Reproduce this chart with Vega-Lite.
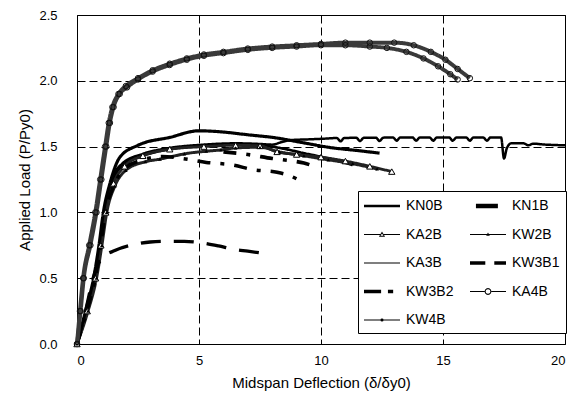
{
  "$schema": "https://vega.github.io/schema/vega-lite/v6.json",
  "width": 488,
  "height": 329,
  "autosize": {"type": "none"},
  "padding": {"left": 77, "top": 15, "right": 11, "bottom": 59},
  "background": "white",
  "config": {
    "font": "Liberation Sans",
    "view": {"stroke": "black", "strokeWidth": 1},
    "axis": {
      "grid": true,
      "gridColor": "black",
      "gridDash": [8, 4],
      "gridWidth": 1,
      "gridOpacity": 1,
      "domain": false,
      "ticks": false,
      "tickSize": 0,
      "labelFont": "Liberation Sans",
      "labelFontSize": 13,
      "labelColor": "black",
      "titleFont": "Liberation Sans",
      "titleFontSize": 15,
      "titleFontWeight": "normal",
      "titleColor": "black"
    },
    "legend": {
      "orient": "none",
      "legendX": 281,
      "legendY": 176,
      "direction": "horizontal",
      "columns": 2,
      "columnPadding": 16,
      "rowPadding": 12.5,
      "padding": 6,
      "symbolOffset": 9,
      "labelOffset": 15,
      "labelFont": "Liberation Sans",
      "labelFontSize": 14,
      "labelColor": "black",
      "labelLimit": 200,
      "symbolSize": 324,
      "symbolFillColor": "black",
      "symbolStrokeColor": "black",
      "symbolStrokeWidth": 0,
      "symbolOpacity": 1,
      "strokeColor": "black",
      "fillColor": "white"
    }
  },
  "datasets": {
    "rows": [
      {"series": "KN0B", "curve": "KN0B", "x": 0, "y": 0},
      {"series": "KN0B", "curve": "KN0B", "x": 0.38, "y": 0.25},
      {"series": "KN0B", "curve": "KN0B", "x": 0.72, "y": 0.5},
      {"series": "KN0B", "curve": "KN0B", "x": 0.93, "y": 0.75},
      {"series": "KN0B", "curve": "KN0B", "x": 1.12, "y": 1.0},
      {"series": "KN0B", "curve": "KN0B", "x": 1.4, "y": 1.24},
      {"series": "KN0B", "curve": "KN0B", "x": 1.85, "y": 1.37},
      {"series": "KN0B", "curve": "KN0B", "x": 2.7, "y": 1.445},
      {"series": "KN0B", "curve": "KN0B", "x": 3.8, "y": 1.49},
      {"series": "KN0B", "curve": "KN0B", "x": 5.2, "y": 1.515},
      {"series": "KN0B", "curve": "KN0B", "x": 6.5, "y": 1.525},
      {"series": "KN0B", "curve": "KN0B", "x": 7.5, "y": 1.52},
      {"series": "KN0B", "curve": "KN0B", "x": 8.0, "y": 1.515},
      {"series": "KN0B", "curve": "KN0B", "x": 8.4, "y": 1.535},
      {"series": "KN0B", "curve": "KN0B", "x": 8.8, "y": 1.55},
      {"series": "KN0B", "curve": "KN0B", "x": 9.5, "y": 1.555},
      {"series": "KN0B", "curve": "KN0B", "x": 10.1, "y": 1.56},
      {"series": "KN0B", "curve": "KN0B", "x": 10.65, "y": 1.565},
      {"series": "KN0B", "curve": "KN0B", "x": 10.8, "y": 1.54},
      {"series": "KN0B", "curve": "KN0B", "x": 10.95, "y": 1.565},
      {"series": "KN0B", "curve": "KN0B", "x": 11.45, "y": 1.567},
      {"series": "KN0B", "curve": "KN0B", "x": 11.6, "y": 1.542},
      {"series": "KN0B", "curve": "KN0B", "x": 11.75, "y": 1.567},
      {"series": "KN0B", "curve": "KN0B", "x": 12.25, "y": 1.568},
      {"series": "KN0B", "curve": "KN0B", "x": 12.4, "y": 1.543},
      {"series": "KN0B", "curve": "KN0B", "x": 12.55, "y": 1.568},
      {"series": "KN0B", "curve": "KN0B", "x": 12.95, "y": 1.57},
      {"series": "KN0B", "curve": "KN0B", "x": 13.1, "y": 1.545},
      {"series": "KN0B", "curve": "KN0B", "x": 13.25, "y": 1.57},
      {"series": "KN0B", "curve": "KN0B", "x": 13.75, "y": 1.57},
      {"series": "KN0B", "curve": "KN0B", "x": 13.9, "y": 1.545},
      {"series": "KN0B", "curve": "KN0B", "x": 14.05, "y": 1.57},
      {"series": "KN0B", "curve": "KN0B", "x": 14.45, "y": 1.57},
      {"series": "KN0B", "curve": "KN0B", "x": 14.6, "y": 1.545},
      {"series": "KN0B", "curve": "KN0B", "x": 14.75, "y": 1.57},
      {"series": "KN0B", "curve": "KN0B", "x": 15.25, "y": 1.57},
      {"series": "KN0B", "curve": "KN0B", "x": 15.4, "y": 1.545},
      {"series": "KN0B", "curve": "KN0B", "x": 15.55, "y": 1.57},
      {"series": "KN0B", "curve": "KN0B", "x": 15.95, "y": 1.57},
      {"series": "KN0B", "curve": "KN0B", "x": 16.1, "y": 1.545},
      {"series": "KN0B", "curve": "KN0B", "x": 16.25, "y": 1.57},
      {"series": "KN0B", "curve": "KN0B", "x": 16.65, "y": 1.57},
      {"series": "KN0B", "curve": "KN0B", "x": 16.8, "y": 1.545},
      {"series": "KN0B", "curve": "KN0B", "x": 16.95, "y": 1.57},
      {"series": "KN0B", "curve": "KN0B", "x": 17.38, "y": 1.57},
      {"series": "KN0B", "curve": "KN0B", "x": 17.5, "y": 1.41},
      {"series": "KN0B", "curve": "KN0B", "x": 17.62, "y": 1.49},
      {"series": "KN0B", "curve": "KN0B", "x": 17.8, "y": 1.525},
      {"series": "KN0B", "curve": "KN0B", "x": 18.3, "y": 1.525},
      {"series": "KN0B", "curve": "KN0B", "x": 18.5, "y": 1.51},
      {"series": "KN0B", "curve": "KN0B", "x": 18.7, "y": 1.522},
      {"series": "KN0B", "curve": "KN0B", "x": 19.2, "y": 1.515},
      {"series": "KN0B", "curve": "KN0B", "x": 19.6, "y": 1.512},
      {"series": "KN0B", "curve": "KN0B", "x": 20, "y": 1.51},

      {"series": "KN1B", "curve": "KN1B", "x": 0, "y": 0},
      {"series": "KN1B", "curve": "KN1B", "x": 0.4, "y": 0.25},
      {"series": "KN1B", "curve": "KN1B", "x": 0.74, "y": 0.5},
      {"series": "KN1B", "curve": "KN1B", "x": 0.95, "y": 0.75},
      {"series": "KN1B", "curve": "KN1B", "x": 1.15, "y": 1.0},
      {"series": "KN1B", "curve": "KN1B", "x": 1.45, "y": 1.23},
      {"series": "KN1B", "curve": "KN1B", "x": 1.9, "y": 1.36},
      {"series": "KN1B", "curve": "KN1B", "x": 2.7, "y": 1.43},
      {"series": "KN1B", "curve": "KN1B", "x": 3.8, "y": 1.48},
      {"series": "KN1B", "curve": "KN1B", "x": 5.2, "y": 1.505},
      {"series": "KN1B", "curve": "KN1B", "x": 6.5, "y": 1.515},
      {"series": "KN1B", "curve": "KN1B", "x": 7.5, "y": 1.51},
      {"series": "KN1B", "curve": "KN1B", "x": 8.3, "y": 1.49},
      {"series": "KN1B", "curve": "KN1B", "x": 9.3, "y": 1.45},
      {"series": "KN1B", "curve": "KN1B", "x": 10.3, "y": 1.41},
      {"series": "KN1B", "curve": "KN1B", "x": 11.3, "y": 1.36},

      {"series": "KA2B", "curve": "KA2B", "x": 0, "y": 0},
      {"series": "KA2B", "curve": "KA2B", "x": 0.42, "y": 0.25},
      {"series": "KA2B", "curve": "KA2B", "x": 0.76, "y": 0.5},
      {"series": "KA2B", "curve": "KA2B", "x": 0.98, "y": 0.75},
      {"series": "KA2B", "curve": "KA2B", "x": 1.18, "y": 1.0},
      {"series": "KA2B", "curve": "KA2B", "x": 1.5, "y": 1.22},
      {"series": "KA2B", "curve": "KA2B", "x": 1.95, "y": 1.35},
      {"series": "KA2B", "curve": "KA2B", "x": 2.7, "y": 1.43},
      {"series": "KA2B", "curve": "KA2B", "x": 3.8, "y": 1.48},
      {"series": "KA2B", "curve": "KA2B", "x": 5.2, "y": 1.5},
      {"series": "KA2B", "curve": "KA2B", "x": 6.5, "y": 1.51},
      {"series": "KA2B", "curve": "KA2B", "x": 7.5, "y": 1.505},
      {"series": "KA2B", "curve": "KA2B", "x": 8.2, "y": 1.46},
      {"series": "KA2B", "curve": "KA2B", "x": 9.0, "y": 1.44},
      {"series": "KA2B", "curve": "KA2B", "x": 10.0, "y": 1.42},
      {"series": "KA2B", "curve": "KA2B", "x": 11.0, "y": 1.39},
      {"series": "KA2B", "curve": "KA2B", "x": 12.0, "y": 1.35},
      {"series": "KA2B", "curve": "KA2B", "x": 12.9, "y": 1.31},

      {"series": "KW2B", "curve": "KW2B", "x": 0, "y": 0},
      {"series": "KW2B", "curve": "KW2B", "x": 0.45, "y": 0.25},
      {"series": "KW2B", "curve": "KW2B", "x": 0.8, "y": 0.5},
      {"series": "KW2B", "curve": "KW2B", "x": 1.02, "y": 0.75},
      {"series": "KW2B", "curve": "KW2B", "x": 1.22, "y": 1.0},
      {"series": "KW2B", "curve": "KW2B", "x": 1.55, "y": 1.2},
      {"series": "KW2B", "curve": "KW2B", "x": 2.0, "y": 1.32},
      {"series": "KW2B", "curve": "KW2B", "x": 2.8, "y": 1.385},
      {"series": "KW2B", "curve": "KW2B", "x": 3.4, "y": 1.405},
      {"series": "KW2B", "curve": "KW2B", "x": 3.9, "y": 1.425},
      {"series": "KW2B", "curve": "KW2B", "x": 4.4, "y": 1.445},
      {"series": "KW2B", "curve": "KW2B", "x": 5.3, "y": 1.465},
      {"series": "KW2B", "curve": "KW2B", "x": 5.9, "y": 1.475},
      {"series": "KW2B", "curve": "KW2B", "x": 6.5, "y": 1.49},
      {"series": "KW2B", "curve": "KW2B", "x": 7.5, "y": 1.495},
      {"series": "KW2B", "curve": "KW2B", "x": 8.3, "y": 1.46},
      {"series": "KW2B", "curve": "KW2B", "x": 9.3, "y": 1.43},
      {"series": "KW2B", "curve": "KW2B", "x": 10.3, "y": 1.4},
      {"series": "KW2B", "curve": "KW2B", "x": 11.3, "y": 1.37},
      {"series": "KW2B", "curve": "KW2B", "x": 12.3, "y": 1.33},

      {"series": "KA3B", "curve": "KA3B", "x": 0, "y": 0},
      {"series": "KA3B", "curve": "KA3B", "x": 0.35, "y": 0.25},
      {"series": "KA3B", "curve": "KA3B", "x": 0.68, "y": 0.5},
      {"series": "KA3B", "curve": "KA3B", "x": 0.9, "y": 0.75},
      {"series": "KA3B", "curve": "KA3B", "x": 1.08, "y": 1.0},
      {"series": "KA3B", "curve": "KA3B", "x": 1.35, "y": 1.22},
      {"series": "KA3B", "curve": "KA3B", "x": 1.76, "y": 1.42},
      {"series": "KA3B", "curve": "KA3B", "x": 2.5, "y": 1.51},
      {"series": "KA3B", "curve": "KA3B", "x": 3.8, "y": 1.57},
      {"series": "KA3B", "curve": "KA3B", "x": 5.0, "y": 1.62},
      {"series": "KA3B", "curve": "KA3B", "x": 5.7, "y": 1.615},
      {"series": "KA3B", "curve": "KA3B", "x": 7.0, "y": 1.59},
      {"series": "KA3B", "curve": "KA3B", "x": 8.2, "y": 1.565},
      {"series": "KA3B", "curve": "KA3B", "x": 9.1, "y": 1.535},
      {"series": "KA3B", "curve": "KA3B", "x": 10.5, "y": 1.49},
      {"series": "KA3B", "curve": "KA3B", "x": 11.5, "y": 1.47},
      {"series": "KA3B", "curve": "KA3B", "x": 12.4, "y": 1.45},

      {"series": "KW3B1", "curve": "KW3B1", "x": 0, "y": 0},
      {"series": "KW3B1", "curve": "KW3B1", "x": 0.35, "y": 0.25},
      {"series": "KW3B1", "curve": "KW3B1", "x": 0.66, "y": 0.5},
      {"series": "KW3B1", "curve": "KW3B1", "x": 0.85, "y": 0.6},
      {"series": "KW3B1", "curve": "KW3B1", "x": 1.07, "y": 0.66},
      {"series": "KW3B1", "curve": "KW3B1", "x": 1.55, "y": 0.71},
      {"series": "KW3B1", "curve": "KW3B1", "x": 2.45, "y": 0.76},
      {"series": "KW3B1", "curve": "KW3B1", "x": 3.0, "y": 0.775},
      {"series": "KW3B1", "curve": "KW3B1", "x": 3.7, "y": 0.78},
      {"series": "KW3B1", "curve": "KW3B1", "x": 4.4, "y": 0.78},
      {"series": "KW3B1", "curve": "KW3B1", "x": 5.05, "y": 0.77},
      {"series": "KW3B1", "curve": "KW3B1", "x": 5.8, "y": 0.745},
      {"series": "KW3B1", "curve": "KW3B1", "x": 6.4, "y": 0.72},
      {"series": "KW3B1", "curve": "KW3B1", "x": 7.0, "y": 0.705},
      {"series": "KW3B1", "curve": "KW3B1", "x": 7.6, "y": 0.69},

      {"series": "KW3B2", "curve": "KW3B2a", "x": 0, "y": 0},
      {"series": "KW3B2", "curve": "KW3B2a", "x": 0.4, "y": 0.25},
      {"series": "KW3B2", "curve": "KW3B2a", "x": 0.75, "y": 0.5},
      {"series": "KW3B2", "curve": "KW3B2a", "x": 0.97, "y": 0.75},
      {"series": "KW3B2", "curve": "KW3B2a", "x": 1.17, "y": 1.0},
      {"series": "KW3B2", "curve": "KW3B2a", "x": 1.5, "y": 1.2},
      {"series": "KW3B2", "curve": "KW3B2a", "x": 1.95, "y": 1.33},
      {"series": "KW3B2", "curve": "KW3B2a", "x": 2.7, "y": 1.4},
      {"series": "KW3B2", "curve": "KW3B2a", "x": 3.5, "y": 1.425},
      {"series": "KW3B2", "curve": "KW3B2a", "x": 4.3, "y": 1.41},
      {"series": "KW3B2", "curve": "KW3B2a", "x": 5.3, "y": 1.38},
      {"series": "KW3B2", "curve": "KW3B2a", "x": 6.4, "y": 1.36},
      {"series": "KW3B2", "curve": "KW3B2a", "x": 7.2, "y": 1.325},
      {"series": "KW3B2", "curve": "KW3B2a", "x": 8.2, "y": 1.305},
      {"series": "KW3B2", "curve": "KW3B2a", "x": 8.7, "y": 1.28},
      {"series": "KW3B2", "curve": "KW3B2a", "x": 9.06, "y": 1.25},
      {"series": "KW3B2", "curve": "KW3B2b", "x": 6.0, "y": 1.46},
      {"series": "KW3B2", "curve": "KW3B2b", "x": 7.0, "y": 1.44},
      {"series": "KW3B2", "curve": "KW3B2b", "x": 8.0, "y": 1.41},
      {"series": "KW3B2", "curve": "KW3B2b", "x": 8.85, "y": 1.39},
      {"series": "KW3B2", "curve": "KW3B2b", "x": 9.3, "y": 1.375},
      {"series": "KW3B2", "curve": "KW3B2b", "x": 9.8, "y": 1.345},

      {"series": "KA4B", "curve": "KA4B", "x": 0, "y": 0},
      {"series": "KA4B", "curve": "KA4B", "x": 0.15, "y": 0.25},
      {"series": "KA4B", "curve": "KA4B", "x": 0.28, "y": 0.5},
      {"series": "KA4B", "curve": "KA4B", "x": 0.55, "y": 0.75},
      {"series": "KA4B", "curve": "KA4B", "x": 0.8, "y": 1.0},
      {"series": "KA4B", "curve": "KA4B", "x": 1.0, "y": 1.25},
      {"series": "KA4B", "curve": "KA4B", "x": 1.2, "y": 1.5},
      {"series": "KA4B", "curve": "KA4B", "x": 1.35, "y": 1.68},
      {"series": "KA4B", "curve": "KA4B", "x": 1.5, "y": 1.8},
      {"series": "KA4B", "curve": "KA4B", "x": 1.75, "y": 1.9},
      {"series": "KA4B", "curve": "KA4B", "x": 2.05, "y": 1.95},
      {"series": "KA4B", "curve": "KA4B", "x": 2.5, "y": 2.01},
      {"series": "KA4B", "curve": "KA4B", "x": 3.1, "y": 2.07},
      {"series": "KA4B", "curve": "KA4B", "x": 3.8, "y": 2.12},
      {"series": "KA4B", "curve": "KA4B", "x": 4.5, "y": 2.16},
      {"series": "KA4B", "curve": "KA4B", "x": 5.2, "y": 2.19},
      {"series": "KA4B", "curve": "KA4B", "x": 6.0, "y": 2.21},
      {"series": "KA4B", "curve": "KA4B", "x": 7.0, "y": 2.235},
      {"series": "KA4B", "curve": "KA4B", "x": 8.0, "y": 2.25},
      {"series": "KA4B", "curve": "KA4B", "x": 9.0, "y": 2.26},
      {"series": "KA4B", "curve": "KA4B", "x": 10.0, "y": 2.27},
      {"series": "KA4B", "curve": "KA4B", "x": 11.0, "y": 2.27},
      {"series": "KA4B", "curve": "KA4B", "x": 12.0, "y": 2.26},
      {"series": "KA4B", "curve": "KA4B", "x": 12.7, "y": 2.25},
      {"series": "KA4B", "curve": "KA4B", "x": 13.5, "y": 2.22},
      {"series": "KA4B", "curve": "KA4B", "x": 14.2, "y": 2.17},
      {"series": "KA4B", "curve": "KA4B", "x": 14.8, "y": 2.11},
      {"series": "KA4B", "curve": "KA4B", "x": 15.3, "y": 2.05},
      {"series": "KA4B", "curve": "KA4B", "x": 15.6, "y": 2.01},

      {"series": "KW4B", "curve": "KW4B", "x": 0, "y": 0},
      {"series": "KW4B", "curve": "KW4B", "x": 0.12, "y": 0.25},
      {"series": "KW4B", "curve": "KW4B", "x": 0.25, "y": 0.5},
      {"series": "KW4B", "curve": "KW4B", "x": 0.5, "y": 0.75},
      {"series": "KW4B", "curve": "KW4B", "x": 0.75, "y": 1.0},
      {"series": "KW4B", "curve": "KW4B", "x": 0.95, "y": 1.25},
      {"series": "KW4B", "curve": "KW4B", "x": 1.15, "y": 1.5},
      {"series": "KW4B", "curve": "KW4B", "x": 1.3, "y": 1.68},
      {"series": "KW4B", "curve": "KW4B", "x": 1.45, "y": 1.8},
      {"series": "KW4B", "curve": "KW4B", "x": 1.7, "y": 1.9},
      {"series": "KW4B", "curve": "KW4B", "x": 2.0, "y": 1.96},
      {"series": "KW4B", "curve": "KW4B", "x": 2.5, "y": 2.02},
      {"series": "KW4B", "curve": "KW4B", "x": 3.1, "y": 2.08},
      {"series": "KW4B", "curve": "KW4B", "x": 3.8, "y": 2.13},
      {"series": "KW4B", "curve": "KW4B", "x": 4.5, "y": 2.17},
      {"series": "KW4B", "curve": "KW4B", "x": 5.2, "y": 2.2},
      {"series": "KW4B", "curve": "KW4B", "x": 6.0, "y": 2.22},
      {"series": "KW4B", "curve": "KW4B", "x": 7.0, "y": 2.245},
      {"series": "KW4B", "curve": "KW4B", "x": 8.0, "y": 2.26},
      {"series": "KW4B", "curve": "KW4B", "x": 9.0, "y": 2.27},
      {"series": "KW4B", "curve": "KW4B", "x": 10.0, "y": 2.28},
      {"series": "KW4B", "curve": "KW4B", "x": 11.0, "y": 2.29},
      {"series": "KW4B", "curve": "KW4B", "x": 12.0, "y": 2.29},
      {"series": "KW4B", "curve": "KW4B", "x": 13.0, "y": 2.29},
      {"series": "KW4B", "curve": "KW4B", "x": 13.8, "y": 2.27},
      {"series": "KW4B", "curve": "KW4B", "x": 14.5, "y": 2.22},
      {"series": "KW4B", "curve": "KW4B", "x": 15.1, "y": 2.16},
      {"series": "KW4B", "curve": "KW4B", "x": 15.6, "y": 2.09},
      {"series": "KW4B", "curve": "KW4B", "x": 16.1, "y": 2.02}
    ],
    "legendrows": [
      {"series": "KN0B", "x": 30, "y": 5},
      {"series": "KN1B", "x": 30, "y": 5},
      {"series": "KA2B", "x": 30, "y": 5},
      {"series": "KW2B", "x": 30, "y": 5},
      {"series": "KA3B", "x": 30, "y": 5},
      {"series": "KW3B1", "x": 30, "y": 5},
      {"series": "KW3B2", "x": 30, "y": 5},
      {"series": "KA4B", "x": 30, "y": 5},
      {"series": "KW4B", "x": 30, "y": 5}
    ]
  },
  "layer": [
    {
      "data": {"name": "rows"},
      "mark": {"type": "line", "interpolate": "monotone", "strokeCap": "butt", "strokeJoin": "round"},
      "encoding": {
        "x": {
          "field": "x",
          "type": "quantitative",
          "scale": {"domain": [0, 20], "nice": false, "zero": false},
          "axis": {"title": "Midspan Deflection (δ/δy0)", "values": [0, 5, 10, 15, 20], "format": "d", "labelPadding": 10, "titlePadding": 8}
        },
        "y": {
          "field": "y",
          "type": "quantitative",
          "scale": {"domain": [0, 2.5], "nice": false, "zero": false},
          "axis": {"title": "Applied Load (P/Py0)", "values": [0, 0.5, 1, 1.5, 2, 2.5], "format": ".1f", "labelPadding": 20, "titlePadding": 6}
        },
        "detail": {"field": "curve", "type": "nominal"},
        "color": {
          "field": "curve", "type": "nominal", "legend": null,
          "scale": {
            "domain": ["KN0B", "KN1B", "KA2B", "KW2B", "KA3B", "KW3B1", "KW3B2a", "KW3B2b", "KA4B", "KW4B"],
            "range": ["#000000", "#000000", "#222222", "#222222", "#000000", "#000000", "#000000", "#000000", "#3a3a3a", "#3a3a3a"]
          }
        },
        "strokeWidth": {
          "field": "curve", "type": "nominal", "legend": null,
          "scale": {
            "domain": ["KN0B", "KN1B", "KA2B", "KW2B", "KA3B", "KW3B1", "KW3B2a", "KW3B2b", "KA4B", "KW4B"],
            "range": [2.5, 4, 3, 3, 1, 3, 2.5, 2.5, 5, 5]
          }
        },
        "strokeDash": {
          "field": "curve", "type": "nominal", "legend": null,
          "scale": {
            "domain": ["KN0B", "KN1B", "KA2B", "KW2B", "KA3B", "KW3B1", "KW3B2a", "KW3B2b", "KA4B", "KW4B"],
            "range": [[1, 0], [1, 0], [1, 0], [1, 0], [1, 0], [20, 13], [13, 10, 4, 10], [13, 10, 4, 10], [1, 0], [1, 0]]
          }
        }
      }
    },
    {
      "data": {"name": "rows"},
      "transform": [{"filter": "datum.series == 'KA4B' || datum.series == 'KW4B'"}],
      "mark": {"type": "point", "shape": "circle", "filled": false, "size": 30, "stroke": "#111111", "strokeWidth": 1, "opacity": 1},
      "encoding": {
        "x": {"field": "x", "type": "quantitative"},
        "y": {"field": "y", "type": "quantitative"}
      }
    },
    {
      "data": {"name": "rows"},
      "transform": [{"filter": "datum.series == 'KA2B'"}],
      "mark": {"type": "point", "shape": "triangle-up", "filled": true, "fill": "white", "size": 40, "stroke": "black", "strokeWidth": 1, "opacity": 1},
      "encoding": {
        "x": {"field": "x", "type": "quantitative"},
        "y": {"field": "y", "type": "quantitative"}
      }
    },
    {
      "data": {"name": "rows"},
      "transform": [{"filter": "datum.series == 'KW2B'"}],
      "mark": {"type": "point", "shape": "triangle-up", "filled": true, "size": 14, "color": "black", "opacity": 1},
      "encoding": {
        "x": {"field": "x", "type": "quantitative"},
        "y": {"field": "y", "type": "quantitative"}
      }
    },
    {
      "data": {"name": "legendrows"},
      "mark": {"type": "point", "filled": true, "color": "black", "opacity": 1, "clip": true},
      "encoding": {
        "x": {"field": "x", "type": "quantitative"},
        "y": {"field": "y", "type": "quantitative"},
        "shape": {
          "field": "series",
          "type": "nominal",
          "title": null,
          "scale": {
            "domain": ["KN0B", "KN1B", "KA2B", "KW2B", "KA3B", "KW3B1", "KW3B2", "KA4B", "KW4B"],
            "range": [
              "M-2,-0.14H2V0.14H-2Z",
              "M-1.34,-0.25H1.1V0.25H-1.34Z",
              "M-2,-0.06H-0.2V0.06H-2Z M0.2,-0.06H2V0.06H0.2Z M0,-0.32L0.34,0.24L-0.34,0.24Z M0,-0.1L-0.17,0.14L0.17,0.14Z",
              "M-2,-0.06H2V0.06H-2Z M0,-0.22L0.2,0.14L-0.2,0.14Z",
              "M-2,-0.06H2V0.06H-2Z",
              "M-2,-0.2H-0.3V0.2H-2Z M0.7,-0.2H2V0.2H0.7Z",
              "M-2,-0.2H-0.1V0.2H-2Z M0.66,-0.2H1.24V0.2H0.66Z",
              "M-2,-0.06H-0.38V0.06H-2Z M0.38,-0.06H2V0.06H0.38Z M0.38,0L0.33,0.19L0.19,0.33L0,0.38L-0.19,0.33L-0.33,0.19L-0.38,0L-0.33,-0.19L-0.19,-0.33L0,-0.38L0.19,-0.33L0.33,-0.19Z M0.26,0L0.226,-0.13L0.13,-0.226L0,-0.26L-0.13,-0.226L-0.226,-0.13L-0.26,0L-0.226,0.13L-0.13,0.226L0,0.26L0.13,0.226L0.226,0.13Z",
              "M-2,-0.06H2V0.06H-2Z M0.18,0L0.128,0.128L0,0.18L-0.128,0.128L-0.18,0L-0.128,-0.128L0,-0.18L0.128,-0.128Z"
            ]
          }
        }
      }
    }
  ]
}
